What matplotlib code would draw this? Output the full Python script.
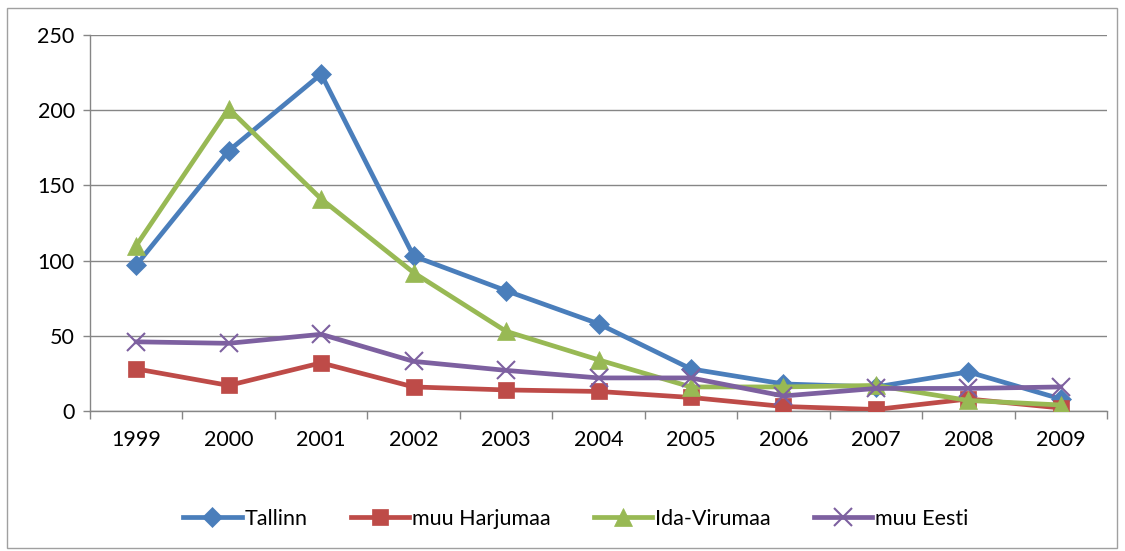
import matplotlib
matplotlib.use('Agg')
import matplotlib.pyplot as plt
from matplotlib.patches import Rectangle
import numpy as np

years = ['1999', '2000', '2001', '2002', '2003', '2004', '2005', '2006', '2007', '2008', '2009']
tallinn = [97, 173, 224, 103, 80, 58, 28, 18, 16, 26, 8]
muu_harjumaa = [28, 17, 32, 16, 14, 13, 9, 3, 1, 8, 2]
ida_virumaa = [110, 201, 141, 92, 53, 34, 16, 16, 17, 7, 4]
muu_eesti = [46, 45, 51, 33, 27, 22, 22, 10, 15, 15, 16]

series = [
    ('Tallinn', tallinn, '#4A7EBB', 'D', 10),
    ('muu Harjumaa', muu_harjumaa, '#BE4B48', 's', 12),
    ('Ida-Virumaa', ida_virumaa, '#98B954', '^', 13),
    ('muu Eesti', muu_eesti, '#7D60A0', 'x', 13),
]

plt.rcParams['font.family'] = ['Lato', 'DejaVu Sans']

fig = plt.figure(figsize=(11.25, 5.51), dpi=100)
ax = fig.add_axes([90 / 1125, 1 - 411 / 551, (1107 - 90) / 1125, (411 - 35) / 551])

x = np.arange(len(years))
for name, vals, color, marker, ms in series:
    ax.plot(x, vals, color=color, lw=3.4, marker=marker, markersize=ms,
            markeredgewidth=1.5 if marker == 'x' else 0.5,
            markeredgecolor=color, label=name, zorder=3)

ax.set_xlim(-0.5, len(years) - 0.5)
ax.set_ylim(0, 250)
ax.set_yticks(range(0, 251, 50))
ax.set_xticks(x)
ax.set_xticklabels(years)
ax.set_xticks(np.arange(-0.5, len(years)), minor=True)
ax.tick_params(axis='x', which='major', length=0, pad=14, labelsize=15.5)
ax.tick_params(axis='x', which='minor', length=6, color='#868686', width=1)
ax.tick_params(axis='y', length=5, color='#868686', width=1, labelsize=15.5, pad=6)
ax.grid(axis='y', color='#868686', lw=1)
ax.set_axisbelow(True)
for side in ['top', 'right']:
    ax.spines[side].set_visible(False)
for side in ['left', 'bottom']:
    ax.spines[side].set_color('#868686')
    ax.spines[side].set_linewidth(1)

leg = fig.legend(loc='center', bbox_to_anchor=(0.512, 1 - 519 / 551), ncol=4,
                 frameon=False, fontsize=15.5, handlelength=2.7, handletextpad=0.15,
                 columnspacing=2.0)

fig.add_artist(Rectangle((7 / 1125, 1 - 548 / 551), (1117 - 7) / 1125, (548 - 8) / 551,
                         transform=fig.transFigure, fill=False, edgecolor='#A0A0A0', lw=1))

fig.savefig('out.png', dpi=100)
